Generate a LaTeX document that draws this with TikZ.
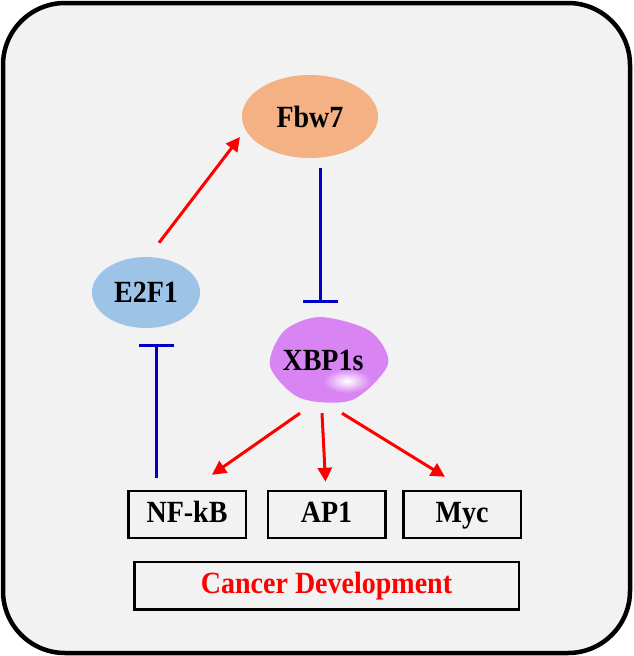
\documentclass[tikz,border=0pt]{standalone}
\usepackage{fontspec}
\setmainfont{Liberation Serif}
\usetikzlibrary{positioning,arrows.meta,shapes.geometric}
\definecolor{bgray}{HTML}{F2F2F2}
\definecolor{fbwcol}{HTML}{F4B183}
\definecolor{e2fcol}{HTML}{9DC3E6}
\definecolor{xbpcol}{HTML}{D884F2}
\definecolor{inhblue}{HTML}{0000C8}
\newcommand{\tall}[1]{\scalebox{1}[1.1]{#1}}
\tikzset{
  gene/.style={ellipse, inner sep=0pt, font=\fontsize{28}{30}\selectfont\bfseries},
  target/.style={draw, line width=2.5pt, minimum width=117.5pt, minimum height=47pt, inner sep=0pt,
    text height=21pt, text depth=6pt, font=\fontsize{28}{30}\selectfont\bfseries},
  activate/.style={red, line width=3pt, -{Triangle[width=14pt,length=14pt]}},
  inhibit/.style={inhblue, line width=3pt, -{Bar[width=35pt,line width=3pt]}}
}
\begin{document}
\begin{tikzpicture}[x=1pt,y=-1pt]
\useasboundingbox (0,0) rectangle (633,656);
\draw[line width=4.5pt, fill=bgray, rounded corners=62pt] (3,3) rectangle (630,653);

\fill[xbpcol] plot[smooth cycle] coordinates {(320,317) (370,331) (388,364) (352,400) (300,398) (270,366) (284,331)};
\shade[inner color=white, outer color=xbpcol] (347,381) ellipse (24pt and 12pt);

\node[gene, fill=fbwcol, minimum width=136pt, minimum height=83pt] (fbw) at (310,116.5) {\tall{Fbw7}};
\node[gene, fill=e2fcol, minimum width=108pt, minimum height=71pt] (e2f) at (146,292.5) {\tall{E2F1}};
\node[gene, minimum width=117pt, minimum height=83pt] (xbp) at (323,360) {\tall{XBP1s}};

\node[target] (nfkb) at (187,514.5) {\tall{NF-kB}};
\node[target, right=19.5pt of nfkb] (ap) {\tall{AP1}};
\node[target, right=15.5pt of ap] (myc) {\tall{Myc}};
\node[target, minimum width=384.5pt, minimum height=47.5pt, below=21.5pt of ap, text=red] (cancer) {\tall{Cancer Development}};

\draw[activate] ([xshift=13pt,yshift=14pt]e2f.north) -- ([xshift=-70pt,yshift=-20.5pt]fbw.center);
\draw[inhibit] ([xshift=10pt,yshift=-10pt]fbw.south) -- ([xshift=-3pt,yshift=15.5pt]xbp.north);
\draw[inhibit] ([xshift=-31pt,yshift=12pt]nfkb.north) -- ([xshift=10pt,yshift=-16pt]e2f.south);
\draw[activate] ([xshift=-23pt,yshift=-11.5pt]xbp.south) -- ([xshift=25pt,yshift=15pt]nfkb.north);
\draw[activate] ([xshift=-1pt,yshift=-11.5pt]xbp.south) -- ([xshift=-1pt,yshift=8pt]ap.north);
\draw[activate] ([xshift=19pt,yshift=-11.5pt]xbp.south) -- ([xshift=-17pt,yshift=13pt]myc.north);
\end{tikzpicture}
\end{document}
